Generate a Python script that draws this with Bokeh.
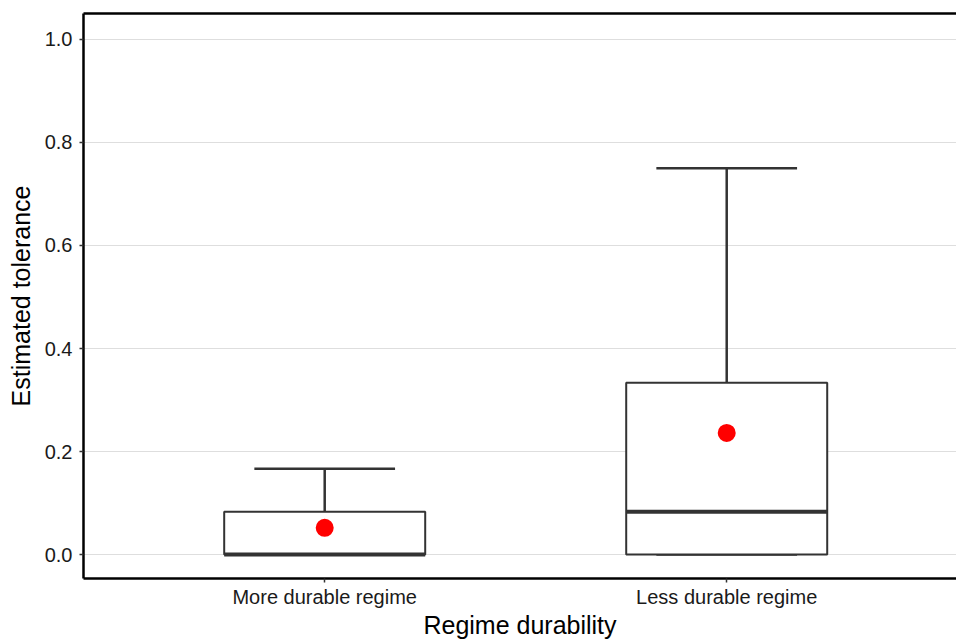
from bokeh.plotting import figure
from bokeh.models import Range1d, FixedTicker, LinearAxis, ColumnDataSource
from bokeh.transform import dodge
from bokeh.embed import file_html
from bokeh.resources import INLINE

categories = ["More durable regime", "Less durable regime"]
x_pos = [1, 2]
whisker_low = [0.0, 0.0]
q1 = [0.0, 0.0]
median = [0.0, 0.0833]
q3 = [0.0833, 0.3333]
whisker_high = [0.1667, 0.75]
means = [0.052, 0.236]

box_w = 0.5
cap_w = 0.35

p = figure(width=956, height=641, output_backend="svg", toolbar_location=None,
           x_range=Range1d(0.4, 2.5716), y_range=Range1d(-0.0465, 1.0504),
           min_border_left=83, min_border_right=0, min_border_top=13, min_border_bottom=62)
p.outline_line_color = None
p.background_fill_color = "white"
p.xgrid.grid_line_color = None
p.ygrid.grid_line_color = "#dedede"
p.ygrid.grid_line_width = 1
p.yaxis.ticker = FixedTicker(ticks=[0, 0.2, 0.4, 0.6, 0.8, 1.0])
p.yaxis.major_label_overrides = {0: "0.0", 0.2: "0.2", 0.4: "0.4", 0.6: "0.6", 0.8: "0.8", 1.0: "1.0"}
p.xaxis.ticker = FixedTicker(ticks=x_pos)
p.xaxis.major_label_overrides = {x: c for x, c in zip(x_pos, categories)}

for ax in (p.xaxis[0], p.yaxis[0]):
    ax.axis_line_color = "black"
    ax.axis_line_width = 2.5
    ax.major_tick_line_color = "#333333"
    ax.major_tick_line_width = 1.5
    ax.major_tick_out = 4
    ax.major_tick_in = 0
    ax.minor_tick_line_color = None
    ax.major_label_text_font = "Liberation Sans"
    ax.major_label_text_font_size = "20px"
    ax.major_label_text_color = "#1a1a1a"
    ax.axis_label_text_font = "Liberation Sans"
    ax.axis_label_text_font_size = "25px"
    ax.axis_label_text_font_style = "normal"
    ax.axis_label_text_color = "black"

p.xaxis.axis_label = "Regime durability"
p.yaxis.axis_label = "Estimated tolerance"
p.xaxis.major_label_standoff = 3
p.yaxis.major_label_standoff = 7
p.xaxis.axis_label_standoff = 0
p.yaxis.axis_label_standoff = 7

top_axis = LinearAxis(ticker=FixedTicker(ticks=[]), axis_line_color="black", axis_line_width=2.5,
                      major_tick_line_color=None, minor_tick_line_color=None,
                      major_label_text_font_size="0px")
p.add_layout(top_axis, "above")

src = ColumnDataSource(dict(x=x_pos, wl=whisker_low, q1=q1, med=median, q3=q3, wh=whisker_high,
                            mean=means))

# whiskers
p.segment(x0="x", y0="q3", x1="x", y1="wh", source=src, line_color="#333333", line_width=2.5)
p.segment(x0="x", y0="wl", x1="x", y1="q1", source=src, line_color="#333333", line_width=2.5)
# caps
p.segment(x0=dodge("x", -cap_w / 2), y0="wh", x1=dodge("x", cap_w / 2), y1="wh", source=src,
          line_color="#333333", line_width=2.5)
p.segment(x0=dodge("x", -cap_w / 2), y0="wl", x1=dodge("x", cap_w / 2), y1="wl", source=src,
          line_color="#333333", line_width=2.5)
# boxes
p.vbar(x="x", width=box_w, bottom="q1", top="q3", source=src, fill_color="white",
       line_color="#333333", line_width=2)
# medians
p.segment(x0=dodge("x", -box_w / 2), y0="med", x1=dodge("x", box_w / 2), y1="med", source=src,
          line_color="#333333", line_width=4)
# means
p.scatter(x="x", y="mean", source=src, size=18, fill_color="red", line_color=None)

open("out.html", "w").write(file_html(p, INLINE))
